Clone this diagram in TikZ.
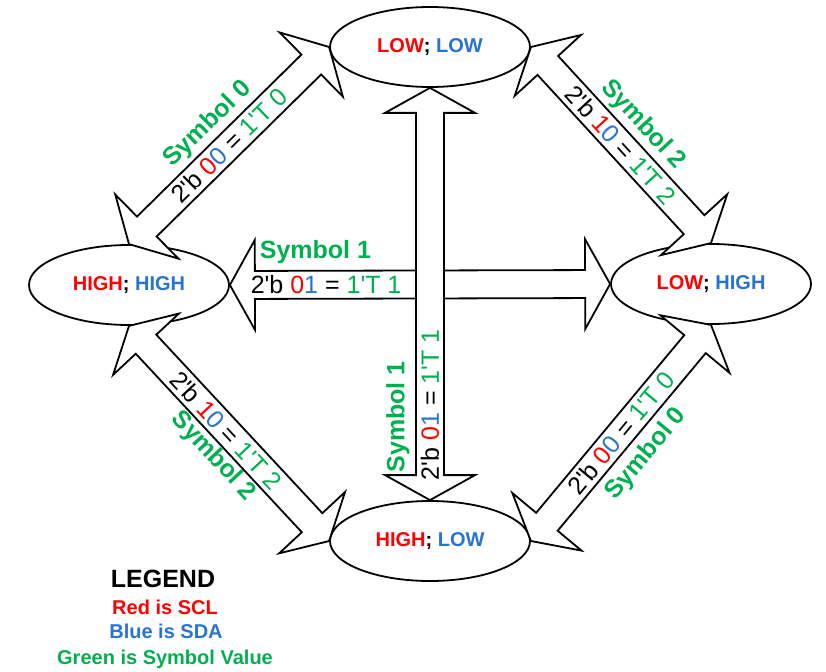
\documentclass[tikz,border=0pt]{standalone}
\usepackage{fontspec}
\setmainfont{Liberation Sans}[Ligatures=TeXOff]
\usetikzlibrary{shapes.geometric,calc}
\definecolor{sclred}{RGB}{255,0,0}
\definecolor{sdablue}{RGB}{40,116,210}
\definecolor{symgreen}{RGB}{0,176,80}
\newcommand{\sclc}[1]{\textcolor{sclred}{#1}}
\newcommand{\sdac}[1]{\textcolor{sdablue}{#1}}
\newcommand{\symc}[1]{\textcolor{symgreen}{#1}}
\newcommand{\arrHL}{25pt}
\newcommand{\arrHW}{45pt}
\newcommand{\arrSW}{14pt}
% block double arrow from #1 to #2, helper names prefixed by #3
\newcommand{\blockarr}[3]{%
  \coordinate (#3h1) at ($(#1)!\arrHL!(#2)$);
  \coordinate (#3h2) at ($(#2)!\arrHL!(#1)$);
  \draw[blockarrow] (#1) -- ($(#3h1)!\arrHW!90:(#2)$) -- ($(#3h1)!\arrSW!90:(#2)$)
    -- ($(#3h2)!\arrSW!-90:(#1)$) -- ($(#3h2)!\arrHW!-90:(#1)$) -- (#2)
    -- ($(#3h2)!\arrHW!90:(#1)$) -- ($(#3h2)!\arrSW!90:(#1)$)
    -- ($(#3h1)!\arrSW!-90:(#2)$) -- ($(#3h1)!\arrHW!-90:(#2)$) -- cycle;
}
\begin{document}
\begin{tikzpicture}[x=1pt,y=1pt,
  state/.style={ellipse, draw, fill=white, line width=1.8pt, minimum width=200pt,
    minimum height=80pt, inner sep=0pt, font=\bfseries\fontsize{20}{24}\selectfont},
  blockarrow/.style={draw, fill=white, line width=1.8pt, line join=miter},
  lab/.style={inner sep=0pt, font=\fontsize{25}{30}\selectfont},
  sym/.style={inner sep=0pt, text=symgreen, font=\bfseries\fontsize{25}{30}\selectfont},
  legtitle/.style={inner sep=0pt, font=\bfseries\fontsize{25}{30}\selectfont},
  legitem/.style={inner sep=0pt, font=\bfseries\fontsize{20}{24}\selectfont}]
\useasboundingbox (0,0) rectangle (826,-671);

% states
\node[state] (T) at (430,-47)  {\sclc{LOW}; \sdac{LOW}};
\node[state] (L) at (129,-285) {\sclc{HIGH}; \sdac{HIGH}};
\node[state] (R) at (711,-284) {\sclc{LOW}; \sdac{HIGH}};
\node[state] (B) at (430,-541) {\sclc{HIGH}; \sdac{LOW}};

% block arrows
\blockarr{L.north}{T.west}{tl}
\blockarr{T.east}{R.north}{tr}
\blockarr{L.south}{B.west}{bl}
\blockarr{B.east}{R.south}{br}
\blockarr{L.east}{R.west}{hz}
\blockarr{B.north}{T.south}{vt}

% diagonal labels
\path (L.north) -- (T.west) node[midway, sloped, lab] {2'b \sclc{0}\sdac{0} = \symc{1'T 0}};
\path ($(L.north)!30pt!90:(T.west)$) -- ($(T.west)!30pt!-90:(L.north)$)
  node[midway, sloped, sym] {Symbol 0};

\path (T.east) -- (R.north) node[midway, sloped, lab] {2'b \sclc{1}\sdac{0} = \symc{1'T 2}};
\path ($(T.east)!30pt!90:(R.north)$) -- ($(R.north)!30pt!-90:(T.east)$)
  node[midway, sloped, sym] {Symbol 2};

\path (L.south) -- (B.west) node[pos=0.485, sloped, lab] {2'b \sclc{1}\sdac{0} = \symc{1'T 2}};
\path ($(L.south)!27pt!-90:(B.west)$) -- ($(B.west)!27pt!90:(L.south)$)
  node[pos=0.52, sloped, sym] {Symbol 2};

\path (B.east) -- (R.south) node[midway, sloped, lab] {2'b \sclc{0}\sdac{0} = \symc{1'T 0}};
\path ($(B.east)!33pt!-90:(R.south)$) -- ($(R.south)!33pt!90:(B.east)$)
  node[midway, sloped, sym] {Symbol 0};

% horizontal labels
\node[lab] (hzlab) at ($(L.east)!0.253!(R.west)$) {2'b \sclc{0}\sdac{1} = \symc{1'T 1}};
\node[sym] (hzsym) at ($(L.east)!0.225!(R.west) + (0,33)$) {Symbol 1};

% vertical labels
\node[lab, rotate=90] (vtlab) at ($(B.north)!0.231!(T.south)$) {2'b \sclc{0}\sdac{1} = \symc{1'T 1}};
\node[sym, rotate=90] (vtsym) at ($(B.north)!0.202!(T.south) + (-32,0)$) {Symbol 1};

% legend
\node[legtitle] (lg0) at (163,-579) {LEGEND};
\node[legitem, text=sclred] (lg1) at (165,-607) {Red is SCL};
\node[legitem, text=sdablue] (lg2) at (166,-631) {Blue is SDA};
\node[legitem, text=symgreen] (lg3) at (165,-659) {Green is Symbol Value};
\end{tikzpicture}
\end{document}
